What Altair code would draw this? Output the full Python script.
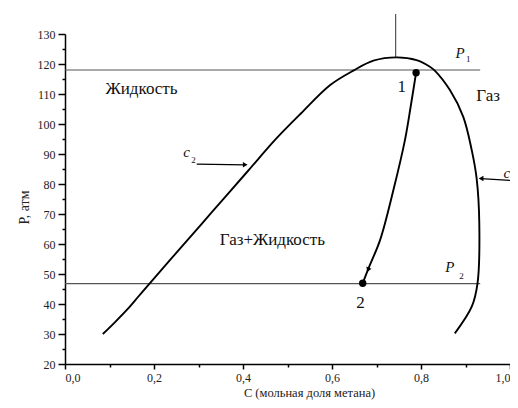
import altair as alt
import pandas as pd

# ---- data ----
env_c = [0.085, 0.112, 0.14, 0.165, 0.19, 0.251, 0.33, 0.412, 0.472, 0.53, 0.596, 0.648, 0.693,
         0.745, 0.79, 0.82, 0.831, 0.865, 0.895, 0.914, 0.925, 0.931, 0.927, 0.914, 0.876]
env_p = [30, 33.9, 38.2, 42.5, 46.8, 57.2, 70.6, 84.5, 94.7, 103.5, 113, 117.8, 121.1,
         122.2, 121.3, 119.1, 117.8, 111.3, 102.4, 91.3, 81.9, 66.9, 46.9, 39.1, 30.2]

path_c = [0.789, 0.777, 0.764, 0.738, 0.708, 0.682, 0.669]
path_p = [117.1, 106, 94.7, 78, 61.3, 51.9, 46.9]

p_levels = [118, 46.8]
p_line_start = 0.0
p_line_end = 0.933

crit_c = [0.743]
crit_p_lo = [122.2]
crit_p_hi = [136.7]

pts_c = [0.789, 0.669]
pts_p = [117.1, 46.9]

arrow_lines = {"c": [0.296, 1.0], "c2": [0.405, 0.935], "p": [86.6, 81.2], "p2": [86.4, 81.8]}
head_c = [0.405, 0.935, 0.681]
head_p = [86.4, 81.8, 51.4]
head_shape = ["triangle-right", "triangle-left", "triangle-down"]
head_angle = [0, 0, 22]

big_text = ["Жидкость", "Газ", "Газ+Жидкость", "1", "2"]
big_c = [0.172, 0.951, 0.466, 0.757, 0.664]
big_p = [111.7, 109.2, 61.2, 112.4, 40.2]

ital_text = ["P", "P", "c", "c"]
ital_c = [0.888, 0.865, 0.273, 0.993]
ital_p = [123.6, 52.4, 90.8, 83.6]

sub_text = ["1", "2", "2"]
sub_c = [0.906, 0.891, 0.289]
sub_p = [121.6, 49.4, 88.0]

x_ticks = [round(i * 0.1, 1) for i in range(11)]
y_ticks = list(range(20, 131, 5))

FONT = "Times New Roman"

# ---- tables ----
env_df = pd.DataFrame({"c": env_c, "p": env_p, "i": range(len(env_c))})
path_df = pd.DataFrame({"c": path_c, "p": path_p, "i": range(len(path_c))})
hl_df = pd.DataFrame({"c": [p_line_start] * 2, "c2": [p_line_end] * 2, "p": p_levels})
vl_df = pd.DataFrame({"c": crit_c, "p": crit_p_lo, "p2": crit_p_hi})
pts_df = pd.DataFrame({"c": pts_c, "p": pts_p})
arr_df = pd.DataFrame(arrow_lines)
head_df = pd.DataFrame({"c": head_c, "p": head_p, "shape": head_shape, "angle": head_angle})
big_df = pd.DataFrame({"c": big_c, "p": big_p, "t": big_text})
ital_df = pd.DataFrame({"c": ital_c, "p": ital_p, "t": ital_text})
sub_df = pd.DataFrame({"c": sub_c, "p": sub_p, "t": sub_text})

xs = alt.Scale(domain=[0, 1], nice=False, zero=False)
ys = alt.Scale(domain=[20, 130], nice=False, zero=False)

x_axis = alt.Axis(
    values=x_ticks,
    labelExpr="round(datum.value*10) % 2 === 0 ? replace(format(datum.value, '.1f'), '.', ',') : ''",
    tickSize={"condition": {"test": "round(datum.value*10) % 2 === 0", "value": 5}, "value": 3},
    title="C (мольная доля метана)",
    labelPadding=3,
    titlePadding=3,
    titleX=244,
    titleFontSize=12.5,
)
y_axis = alt.Axis(
    values=y_ticks,
    labelExpr="datum.value % 10 === 0 ? datum.label : ''",
    tickSize={"condition": {"test": "datum.value % 10 === 0", "value": 7}, "value": 3},
    title="P, атм",
    labelPadding=3,
    titlePadding=6,
    titleY=173,
)

X = alt.X("c:Q", scale=xs, axis=x_axis, title="C (мольная доля метана)")
Y = alt.Y("p:Q", scale=ys, axis=y_axis, title="P, атм")

envelope = alt.Chart(env_df).mark_line(
    color="black", strokeWidth=1.9, interpolate="catmull-rom"
).encode(x=X, y=Y, order="i:Q")

path = alt.Chart(path_df).mark_line(
    color="black", strokeWidth=1.9, interpolate="catmull-rom"
).encode(x=X, y=Y, order="i:Q")

hlines = alt.Chart(hl_df).mark_rule(color="#555555", strokeWidth=1.2).encode(
    x=X, x2="c2:Q", y=Y,
)

vline = alt.Chart(vl_df).mark_rule(color="#555555", strokeWidth=1.2, clip=False).encode(
    x=X, y=Y, y2="p2:Q",
)

points = alt.Chart(pts_df).mark_point(filled=True, color="black", opacity=1, size=55).encode(
    x=X, y=Y,
)

arrows = alt.Chart(arr_df).mark_rule(color="black", strokeWidth=1.2).encode(
    x=X, x2="c2:Q", y=Y, y2="p2:Q",
)

heads = alt.Chart(head_df).mark_point(filled=True, color="black", opacity=1, size=30).encode(
    x=X, y=Y,
    shape=alt.Shape("shape:N", scale=None),
    angle=alt.Angle("angle:Q", scale=None),
)

big = alt.Chart(big_df).mark_text(font=FONT, fontSize=17, color="#111111").encode(
    x=X, y=Y, text="t:N",
)

ital = alt.Chart(ital_df).mark_text(font=FONT, fontSize=15, fontStyle="italic", color="#111111").encode(
    x=X, y=Y, text="t:N",
)

subs = alt.Chart(sub_df).mark_text(font=FONT, fontSize=9, color="#111111").encode(
    x=X, y=Y, text="t:N",
)

chart = alt.layer(hlines, vline, envelope, path, arrows, heads, points, big, ital, subs).properties(
    width=445,
    height=330,
    autosize=alt.AutoSizeParams(type="none"),
    padding={"left": 57, "top": 26, "right": 0, "bottom": 36},
).configure_view(stroke=None).configure_axis(
    grid=False,
    domainColor="black",
    domainWidth=1.5,
    tickColor="black",
    tickWidth=1.5,
    labelColor="#222222",
    labelFont=FONT,
    labelFontSize=12,
    titleFont=FONT,
    titleFontSize=14,
    titleFontWeight="normal",
    titleColor="#222222",
)

chart.save("out.html", embed_options={"renderer": "svg", "actions": False})
